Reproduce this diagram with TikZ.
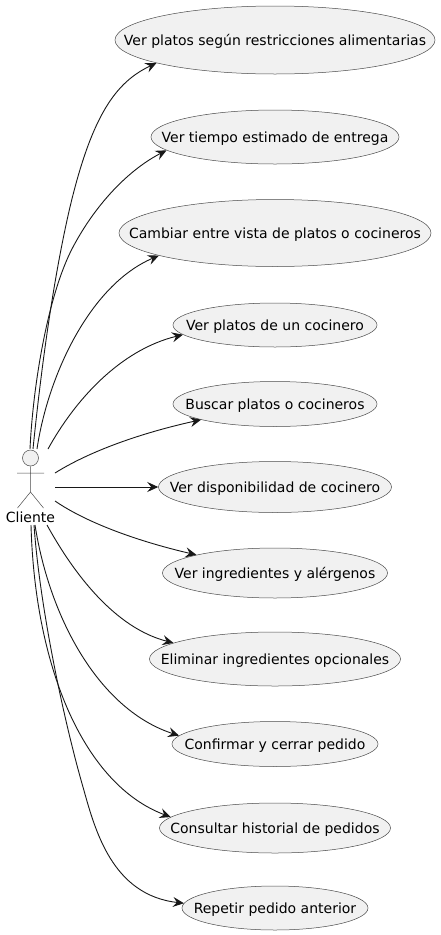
\documentclass[tikz,border=0pt]{standalone}
\usepackage{fontspec}
\setmainfont{DejaVu Sans}
\usetikzlibrary{shapes.geometric,arrows.meta}
\definecolor{ink}{HTML}{181818}
\definecolor{outl}{HTML}{4A4A4A}
\definecolor{fillc}{HTML}{F1F1F1}
\newcommand{\uctext}[1]{\raisebox{-5pt}[0pt][0pt]{\makebox[0pt][c]{#1}}}
\tikzset{
  uc/.style={ellipse,draw=outl,fill=fillc,line width=0.5pt,inner sep=0pt,font=\fontsize{14pt}{16pt}\selectfont,text=black},
  actorline/.style={draw=outl,line width=0.5pt},
  link/.style={draw=ink,line width=0.9pt,-{Stealth[length=11pt,width=10pt,inset=4pt]}}
}
\begin{document}
\begin{tikzpicture}[x=1pt,y=-1pt]
\useasboundingbox (0,0) rectangle (440,935);
\node[uc,minimum width=320pt,minimum height=68pt] (e1) at (275,40) {\uctext{Ver platos según restricciones alimentarias}};
\node[uc,minimum width=248pt,minimum height=54pt] (e2) at (275,137) {\uctext{Ver tiempo estimado de entrega}};
\node[uc,minimum width=312pt,minimum height=67pt] (e3) at (275,233) {\uctext{Cambiar entre vista de platos o cocineros}};
\node[uc,minimum width=204pt,minimum height=44pt] (e4) at (275,325) {\uctext{Ver platos de un cocinero}};
\node[uc,minimum width=204pt,minimum height=45pt] (e5) at (275,404) {\uctext{Buscar platos o cocineros}};
\node[uc,minimum width=233pt,minimum height=51pt] (e6) at (275,487) {\uctext{Ver disponibilidad de cocinero}};
\node[uc,minimum width=225pt,minimum height=50pt] (e7) at (275,573) {\uctext{Ver ingredientes y alérgenos}};
\node[uc,minimum width=251pt,minimum height=54pt] (e8) at (275,659) {\uctext{Eliminar ingredientes opcionales}};
\node[uc,minimum width=206pt,minimum height=45pt] (e9) at (275,744) {\uctext{Confirmar y cerrar pedido}};
\node[uc,minimum width=231pt,minimum height=50pt] (e10) at (275,828) {\uctext{Consultar historial de pedidos}};
\node[uc,minimum width=186pt,minimum height=44pt] (e11) at (275,908) {\uctext{Repetir pedido anterior}};
% actor
\node[circle,draw=outl,fill=fillc,line width=0.5pt,minimum size=16pt,inner sep=0pt] (head) at (30.5,458) {};
\coordinate (hip) at (30.5,492);
\coordinate (armL) at (17,473);
\coordinate (armR) at (44,473);
\coordinate (legL) at (17.5,508);
\coordinate (legR) at (43.5,508);
\draw[actorline] (head.south) -- (hip) (armL) -- (armR) (legL) -- (hip) -- (legR);
\node[font=\fontsize{14pt}{16pt}\selectfont,inner sep=0pt] (cliente) at (30.5,517) {Cliente};
% start points
\coordinate (s1) at (33,449);
\coordinate (s2) at (30,449);
\coordinate (s3) at (37,449);
\coordinate (s4) at (48,449);
\coordinate (s5) at (55,473);
\coordinate (s6) at (55,487);
\coordinate (s7) at (55,501);
\coordinate (s8) at (47,525);
\coordinate (s9) at (35,525);
\coordinate (s10) at (31,525);
\coordinate (s11) at (34,525);
\coordinate (m1) at (70,207);
\coordinate (m2) at (73,247);
\coordinate (m11) at (83,787);
\draw[link] (s1) .. controls (41,370) and (53,280) .. (m1) .. controls (92,115) and (116,82) .. (e1.191);
\draw[link] (s2) .. controls (33,385) and (48,294) .. (m2) .. controls (98,200) and (132,168) .. (e2.187);
\draw[link] (s3) .. controls (48,375) and (90,285) .. (e3.191);
\draw[link] (s4) .. controls (75,400) and (120,350) .. (e4.186.5);
\draw[link] (s5) .. controls (95,448) and (150,431) .. (e5.192);
\draw[link] (s6) -- (e6.180);
\draw[link] (s7) .. controls (90,525) and (145,543) .. (e7.167);
\draw[link] (s8) .. controls (74,574) and (115,628) .. (e8.171);
\draw[link] (s9) .. controls (50,620) and (100,710) .. (e9.175);
\draw[link] (s10) .. controls (35,670) and (85,785) .. (e10.174);
\draw[link] (s11) .. controls (40,610) and (65,725) .. (m11) .. controls (95,830) and (112,895) .. (e11.177);
\end{tikzpicture}
\end{document}
